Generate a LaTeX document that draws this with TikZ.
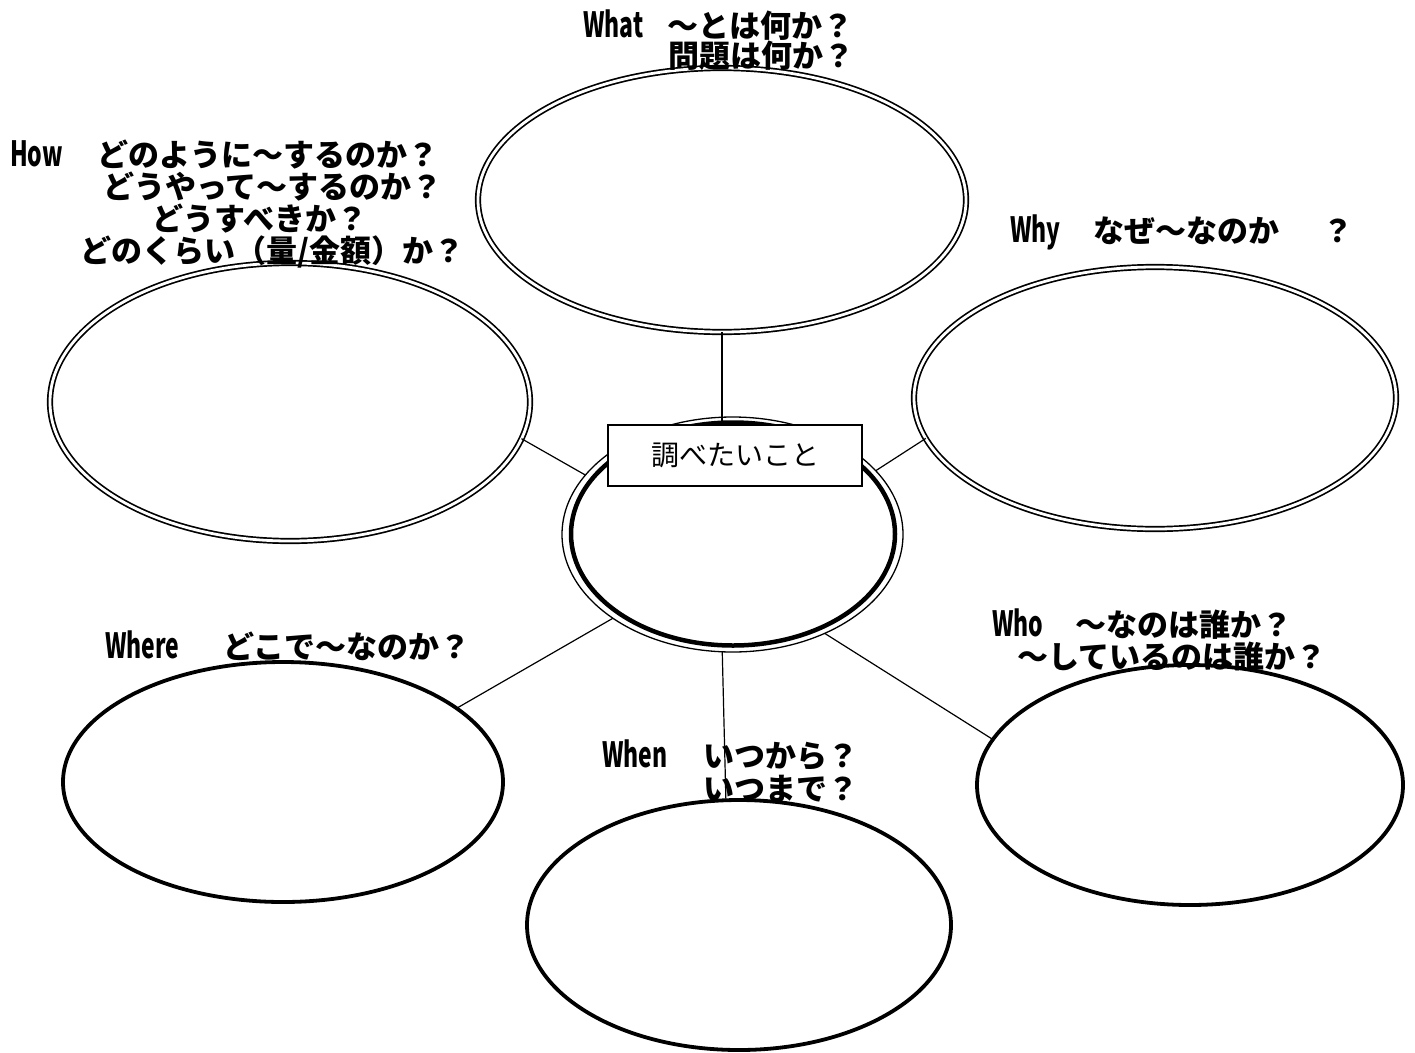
\documentclass[tikz,border=0pt]{standalone}
\usepackage{fontspec}
\usepackage{graphicx}
\newfontfamily\jp{Noto Sans CJK JP}
\usetikzlibrary{shapes.geometric}
\tikzset{
  lbl/.style={font=\jp\bfseries\fontsize{31}{31}\selectfont, inner sep=0pt, anchor=base west},
  dbl/.style={ellipse, draw, double, double distance=2.8pt, line width=1.7pt, inner sep=0pt, outer sep=0pt},
  thk/.style={ellipse, draw, line width=3.8pt, inner sep=0pt, outer sep=0pt},
  conn/.style={line width=1.2pt},
}
\newcommand{\lt}[1]{\scalebox{0.74}[1.12]{#1}}
\begin{document}
\begin{tikzpicture}[x=1pt,y=-1pt]
\useasboundingbox (0,0) rectangle (1415,1052);
% ellipses
\node[dbl, minimum width=488pt, minimum height=264pt] (what) at (722,200) {};
\node[dbl, minimum width=480pt, minimum height=278pt] (how) at (290,402) {};
\node[dbl, minimum width=482pt, minimum height=262pt] (why) at (1155,398) {};
\node[thk, minimum width=440pt, minimum height=240pt] (where) at (283,782) {};
\node[thk, minimum width=424pt, minimum height=250pt] (when) at (739,925) {};
\node[thk, minimum width=426pt, minimum height=240pt] (who) at (1190,785) {};
\node[ellipse, draw, line width=1.3pt, inner sep=0pt, outer sep=0pt, minimum width=341pt, minimum height=235pt] (c) at (732.5,534.5) {};
\node[ellipse, draw, line width=4.5pt, inner sep=0pt, minimum width=324pt, minimum height=223pt] (cin) at (733,534) {};
% box
\node[draw, fill=white, line width=1.6pt, minimum width=254pt, minimum height=61pt, inner sep=0pt,
      font=\jp\fontsize{28}{28}\selectfont] (box) at (735,455.5) {調べたいこと};
% connectors
\draw[conn] (what.south) -- (what.south |- box.north);
\draw[conn] (how.-9.3) -- (c.158.8);
\draw[conn] (why.190.5) -- (c.24.5);
\draw[conn] (where.23.9) -- (c.215.3);
\draw[conn] (c.265.5) -- (when.96);
\draw[conn] (c.-47) -- (who.167.7);
% labels
\node[lbl] (whatA) at (583,37) {\lt{What}};
\node[lbl] (whatB) at (667,37) {〜とは何か？};
\node[lbl] (whatC) at (668,67) {問題は何か？};
\node[lbl] (howA) at (10,166) {\lt{How}};
\node[lbl] (howB) at (97,166) {どのように〜するのか？};
\node[lbl] (howC) at (103,198) {どうやって〜するのか？};
\node[lbl] (howD) at (152,230) {どうすべきか？};
\node[lbl] (howE) at (80,262) {どのくらい（量/金額）か？};
\node[lbl] (whyA) at (1010,242) {\lt{Why}};
\node[lbl] (whyB) at (1093,242) {なぜ〜なのか};
\node[lbl] (whyC) at (1322,242) {？};
\node[lbl] (whereA) at (105,658) {\lt{Where}};
\node[lbl] (whereB) at (223,658) {どこで〜なのか？};
\node[lbl] (whoA) at (992,636) {\lt{Who}};
\node[lbl] (whoB) at (1075,636) {〜なのは誰か？};
\node[lbl] (whoC) at (1017,668) {〜しているのは誰か？};
\node[lbl] (whenA) at (602,767) {\lt{When}};
\node[lbl] (whenB) at (703,767) {いつから？};
\node[lbl] (whenC) at (703,800) {いつまで？};
\end{tikzpicture}
\end{document}
